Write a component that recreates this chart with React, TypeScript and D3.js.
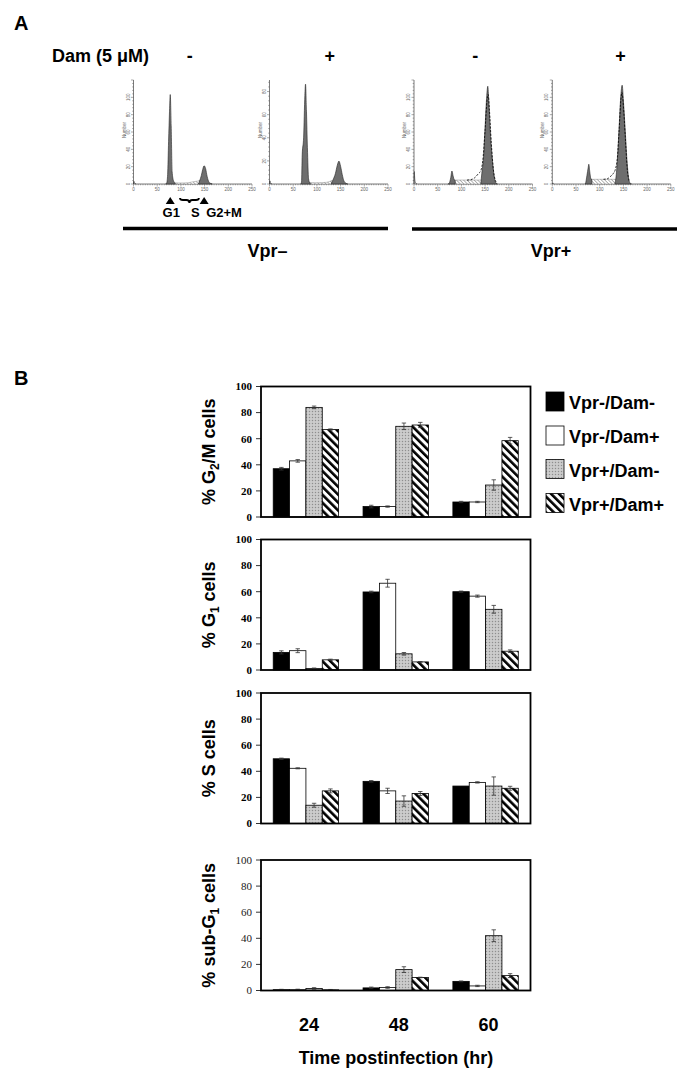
import React from "react";
import * as d3 from "d3";

// ---------- Panel B data ----------
const timepoints = ["24", "48", "60"];
const seriesNames = ["Vpr-/Dam-", "Vpr-/Dam+", "Vpr+/Dam-", "Vpr+/Dam+"];
const yTickValues = [0, 20, 40, 60, 80, 100];

// rows = time points, columns = series
const g2mValues = [[37, 43, 84, 67], [8, 8, 69.5, 70.5], [11.5, 11.5, 24.5, 58.5]];
const g2mErrors = [[1, 1, 1, 0.5], [1, 0.5, 2.5, 2], [0.5, 0.5, 4, 2.5]];
const g1Values = [[13.5, 14.8, 1.2, 7.8], [59.8, 66.5, 12.4, 6.2], [60, 56.6, 46.5, 14.4]];
const g1Errors = [[1.2, 1.5, 0.3, 0.5], [0.6, 3, 1, 0.3], [0.5, 0.8, 3, 1]];
const sValues = [[49.6, 42.3, 14, 25], [32.3, 25, 17.2, 23], [28.7, 31.5, 28.7, 27]];
const sErrors = [[0.5, 0.4, 1.5, 1.5], [0.6, 2, 4, 1.5], [0, 0.5, 7, 1.5]];
const subG1Values = [[0.6, 0.6, 1.6, 0.5], [2, 2.3, 16, 10], [7, 3.5, 42, 11.4]];
const subG1Errors = [[0.3, 0.4, 0.6, 0.3], [0.6, 0.6, 2.2, 0.2], [0.3, 0.5, 4.5, 1.5]];

// ---------- Panel A data (channel, % of axis height) ----------
const histSigns = ["-", "+", "-", "+"];
const histXTicks = [0, 50, 100, 150, 200, 250];
const histYMax = [120, 90, 120, 120];

const h1Debris = [[0, 0], [1, 2.5], [2.5, 0.5], [5, 0.3]];
const h1G1 = [[68, 0], [70, 1], [72, 9], [74, 41], [76, 70], [77.5, 86], [79.5, 56], [81.5, 12], [84.5, 3], [88, 0.8]];
const h1S = [[86, 1.2], [95, 1], [105, 1], [115, 1.2], [122, 1.8], [130, 2.5], [136, 2.8], [140, 3.5]];
const h1G2 = [[137, 0], [139.5, 3], [143, 8], [146, 14], [149, 17.5], [152, 15], [155.5, 7], [159, 2], [163, 0.5], [166, 0]];
const h1Fit: number[][] = [];

const h2Debris = [[0, 0], [1, 3], [2, 0.5], [5, 0.3]];
const h2G1 = [[66, 0], [67.6, 2], [69, 28], [72, 45], [74.6, 85], [76, 96], [78, 70], [80, 35], [82.4, 5], [85, 1], [87, 0]];
const h2S = [[84, 1.5], [95, 1.2], [110, 1.3], [120, 1.6], [127, 2.5], [132, 3.5]];
const h2G2 = [[130, 0], [134, 4], [139, 10], [143, 18], [146.5, 22], [150, 17], [153.5, 9], [157, 3], [162, 0.5], [165, 0]];
const h2Fit: number[][] = [];

const h3Debris = [[0, 0], [0.6, 12], [1.5, 5], [3, 1], [6, 0.3]];
const h3G1 = [[72, 0], [74, 0.5], [77.5, 6], [80, 12.5], [82.4, 8], [85, 4], [87, 3.5]];
const h3S = [[83, 3.8], [100, 3.8], [120, 3.8], [135, 3.8], [143, 3.8]];
const h3G2 = [[141, 0], [143, 10], [146.6, 25], [150, 55], [153.5, 85], [155.7, 94], [157.7, 80], [161, 50], [165.5, 22], [169.6, 6], [173, 1], [176, 0]];
const h3Fit = [[112, 3.8], [120, 4.2], [128, 6], [135, 9.5], [141, 13], [145, 22], [150, 52], [154, 80], [156.5, 86], [159, 72], [163, 40], [168, 12], [173, 2]];

const h4Debris = [[0, 0], [1, 1], [3, 0.3]];
const h4G1 = [[69, 0], [70, 0.5], [73, 8], [75.8, 16], [77, 19], [79, 12], [81.4, 5], [83.5, 4.5]];
const h4S = [[80, 4.5], [100, 4.5], [115, 4.5], [130, 4.5], [136, 4.5]];
const h4G2 = [[132, 0], [134, 5], [137.6, 25], [141, 55], [144.6, 85], [147.4, 95], [150, 80], [154, 50], [158, 20], [162, 3], [165, 0.5], [167, 0]];
const h4Fit = [[108, 4.5], [116, 5], [122, 7], [128.5, 10], [133, 14], [137, 24], [141, 52], [145, 83], [147, 88], [150, 75], [154, 45], [158, 15], [162, 3]];

const histograms = [
  { debris: h1Debris, g1: h1G1, s: h1S, g2: h1G2, fit: h1Fit },
  { debris: h2Debris, g1: h2G1, s: h2S, g2: h2G2, fit: h2Fit },
  { debris: h3Debris, g1: h3G1, s: h3S, g2: h3G2, fit: h3Fit },
  { debris: h4Debris, g1: h4G1, s: h4S, g2: h4G2, fit: h4Fit },
];

// ---------- layout ----------
const SANS = "Arial, 'Liberation Sans', Helvetica, sans-serif";
const SERIF = "'Times New Roman', 'Liberation Serif', serif";
const histLefts = [133.5, 269.5, 414, 552.3];
const histW = 118.5;
const histTop = 80;
const histBottom = 184;
const signDx = [-3, 1, 2, 9];

const plotLeft = 261;
const plotRight = 530.5;
const chartTops = [386.5, 539.5, 693, 860];
const chartH = 130.5;
const seriesFills = ["#000", "#fff", "url(#dots)", "url(#hatch)"];

const charts = [
  { values: g2mValues, errors: g2mErrors, pre: "% G", sub: "2", post: "/M cells", bold: true },
  { values: g1Values, errors: g1Errors, pre: "% G", sub: "1", post: " cells", bold: true },
  { values: sValues, errors: sErrors, pre: "% S cells", sub: "", post: "", bold: true },
  { values: subG1Values, errors: subG1Errors, pre: "% sub-G", sub: "1", post: " cells", bold: false },
];

function Histogram({ idx }: { idx: number }) {
  const h = histograms[idx];
  const left = histLefts[idx];
  const x = d3.scaleLinear().domain([0, 250]).range([left, left + histW]);
  const y = d3.scaleLinear().domain([0, 100]).range([histBottom, histTop]);
  const yc = d3.scaleLinear().domain([0, histYMax[idx]]).range([histBottom, histTop]);
  const area = d3.area<number[]>().x((d) => x(d[0])).y0(histBottom).y1((d) => y(d[1])).curve(d3.curveMonotoneX);
  const line = d3.line<number[]>().x((d) => x(d[0])).y((d) => y(d[1])).curve(d3.curveMonotoneX);
  const minorX = d3.range(0, 251, 5);
  const minorY = d3.range(0, histYMax[idx] + 0.1, 4);
  const majorY = d3.range(0, histYMax[idx] - 5, 20);
  return (
    <g>
      <line x1={left} x2={left + histW} y1={histBottom} y2={histBottom} stroke="#444" strokeWidth={0.7} />
      <line x1={left} x2={left} y1={histTop} y2={histBottom} stroke="#444" strokeWidth={0.7} />
      {minorX.map((t) => (
        <line key={"mx" + t} x1={x(t)} x2={x(t)} y1={histBottom} y2={histBottom + (t % 50 === 0 ? 2.5 : 1.3)} stroke="#555" strokeWidth={0.5} />
      ))}
      {minorY.map((t) => (
        <line key={"my" + t} x1={left - (t % 20 === 0 ? 2.5 : 1.3)} x2={left} y1={yc(t)} y2={yc(t)} stroke="#555" strokeWidth={0.5} />
      ))}
      {histXTicks.map((t) => (
        <text key={"xl" + t} x={x(t)} y={histBottom + 7} fontSize={4.5} fill="#666" textAnchor="middle" fontFamily={SANS}>{t}</text>
      ))}
      {majorY.map((t) => (
        <text key={"yl" + t} transform={`translate(${left - 4},${yc(t)}) rotate(-90)`} fontSize={4.5} fill="#666" textAnchor="middle" fontFamily={SANS}>{t}</text>
      ))}
      <text transform={`translate(${left - 8},${histTop + 50}) rotate(-90)`} fontSize={4.5} fill="#666" textAnchor="middle" fontFamily={SANS}>Number</text>
      <path d={area(h.s) || ""} fill="url(#shatch)" stroke="#888" strokeWidth={0.5} />
      <path d={area(h.g1) || ""} fill="#6e6e6e" stroke="#222" strokeWidth={0.6} />
      <path d={area(h.g2) || ""} fill="#6e6e6e" stroke="#222" strokeWidth={0.6} />
      <path d={line(h.debris) || ""} fill="none" stroke="#333" strokeWidth={0.7} />
      {h.fit.length > 0 && (
        <path d={line(h.fit) || ""} fill="none" stroke="#000" strokeWidth={0.8} strokeDasharray="2.2,1.4" />
      )}
      <text x={(left + histW / 2) + signDx[idx]} y={62} fontSize={18} fontWeight="bold" textAnchor="middle" fontFamily={SANS}>{histSigns[idx]}</text>
    </g>
  );
}

function BarChart({ idx }: { idx: number }) {
  const c = charts[idx];
  const top = chartTops[idx];
  const bottom = top + chartH;
  const x0 = d3.scaleBand().domain(timepoints).range([plotLeft, plotRight]).paddingInner(0.272).paddingOuter(0.136);
  const x1 = d3.scaleBand().domain(seriesNames).range([0, x0.bandwidth()]);
  const y = d3.scaleLinear().domain([0, 100]).range([bottom, top]);
  const midY = (top + bottom) / 2;
  return (
    <g>
      {timepoints.map((tp, i) =>
        seriesNames.map((s, j) => {
          const v = c.values[i][j];
          const e = c.errors[i][j];
          const bx = (x0(tp) as number) + (x1(s) as number);
          const bw = x1.bandwidth();
          const cx = bx + bw / 2;
          return (
            <g key={tp + s}>
              <rect x={bx} y={y(v)} width={bw} height={y(0) - y(v)} fill={seriesFills[j]} stroke="#000" strokeWidth={0.8} />
              {e > 0 && (
                <g stroke="#333" strokeWidth={0.8}>
                  <line x1={cx} x2={cx} y1={y(v + e)} y2={y(Math.max(0, v - e))} />
                  <line x1={cx - 2.2} x2={cx + 2.2} y1={y(v + e)} y2={y(v + e)} />
                  <line x1={cx - 2.2} x2={cx + 2.2} y1={y(Math.max(0, v - e))} y2={y(Math.max(0, v - e))} />
                </g>
              )}
            </g>
          );
        })
      )}
      <rect x={plotLeft} y={top} width={plotRight - plotLeft} height={chartH} fill="none" stroke="#000" strokeWidth={1.8} />
      {yTickValues.map((t) => (
        <g key={t}>
          <line x1={plotLeft - 5} x2={plotLeft} y1={y(t)} y2={y(t)} stroke="#000" strokeWidth={0.8} />
          <text x={plotLeft - 9} y={y(t) + 3.8} fontSize={11} fontWeight={c.bold ? "bold" : "normal"} textAnchor="end" fontFamily={SERIF} fill={c.bold ? "#000" : "#222"}>{t}</text>
        </g>
      ))}
      <text transform={`translate(215,${midY}) rotate(-90)`} fontSize={18} fontWeight="bold" textAnchor="middle" fontFamily={SANS}>
        <tspan>{c.pre}</tspan>
        {c.sub && <tspan fontSize={12} dy={4}>{c.sub}</tspan>}
        {c.post && <tspan dy={c.sub ? -4 : 0}>{c.post}</tspan>}
      </text>
      {idx === charts.length - 1 &&
        timepoints.map((tp) => (
          <text key={"xt" + tp} x={(x0(tp) as number) + x0.bandwidth() / 2 + 3} y={1031} fontSize={18} fontWeight="bold" textAnchor="middle" fontFamily={SANS}>{tp}</text>
        ))}
    </g>
  );
}

export default function App() {
  const hx = d3.scaleLinear().domain([0, 250]).range([histLefts[0], histLefts[0] + histW]);
  const g1x = hx(77.5);
  const g2x = hx(149);
  const bL = hx(98);
  const bR = hx(138);
  const bM = (bL + bR) / 2;
  const by = 200;
  const legendTops = [392, 426, 459.5, 493.5];
  return (
    <svg width={700} height={1084} style={{ position: "absolute", left: 0, top: 0, background: "#fff" }} fontFamily={SANS}>
      <defs>
        <pattern id="dots" patternUnits="userSpaceOnUse" width={3} height={3}>
          <rect width={3} height={3} fill="#c4c4c4" />
          <rect width={1} height={1} fill="#8e8e8e" />
          <rect x={1.5} y={1.5} width={1} height={1} fill="#e4e4e4" />
        </pattern>
        <pattern id="hatch" patternUnits="userSpaceOnUse" width={5.6} height={5.6} patternTransform="rotate(-45)">
          <rect width={5.6} height={5.6} fill="#fff" />
          <rect width={2.6} height={5.6} fill="#000" />
        </pattern>
        <pattern id="shatch" patternUnits="userSpaceOnUse" width={2.5} height={2.5} patternTransform="rotate(-45)">
          <rect width={2.5} height={2.5} fill="#fff" />
          <rect width={0.7} height={2.5} fill="#999" />
        </pattern>
      </defs>

      {/* Panel A */}
      <text x={14} y={30} fontSize={20} fontWeight="bold">A</text>
      <text x={52} y={62} fontSize={18} fontWeight="bold">Dam (5 μM)</text>
      {histograms.map((_, i) => (
        <Histogram key={i} idx={i} />
      ))}
      <path d={`M${g1x},${197} L${g1x - 4.5},${204} L${g1x + 4.5},${204} Z`} fill="#000" />
      <path d={`M${g2x},${197} L${g2x - 4.5},${204} L${g2x + 4.5},${204} Z`} fill="#000" />
      <path
        d={`M${bL},${by - 2} Q${bL},${by} ${bL + 3},${by} L${bM - 3},${by} Q${bM},${by} ${bM},${by + 3} Q${bM},${by} ${bM + 3},${by} L${bR - 3},${by} Q${bR},${by} ${bR},${by - 2}`}
        fill="none"
        stroke="#000"
        strokeWidth={1.8}
      />
      <text x={g1x + 1} y={216.7} fontSize={13} fontWeight="bold" textAnchor="middle">G1</text>
      <text x={bM + 6} y={216.7} fontSize={13} fontWeight="bold" textAnchor="middle">S</text>
      <text x={g2x + 2} y={216.7} fontSize={13} fontWeight="bold" textAnchor="start">G2+M</text>
      <line x1={123} x2={388} y1={228.5} y2={228.5} stroke="#000" strokeWidth={3.3} />
      <line x1={412} x2={677} y1={229} y2={229} stroke="#000" strokeWidth={3.3} />
      <text x={267.5} y={256.7} fontSize={18} fontWeight="bold" textAnchor="middle">Vpr–</text>
      <text x={551} y={256.7} fontSize={18} fontWeight="bold" textAnchor="middle">Vpr+</text>

      {/* Panel B */}
      <text x={14} y={385} fontSize={20} fontWeight="bold">B</text>
      {charts.map((_, i) => (
        <BarChart key={i} idx={i} />
      ))}
      <text x={396} y={1064} fontSize={18} fontWeight="bold" textAnchor="middle">Time postinfection (hr)</text>

      {seriesNames.map((s, j) => (
        <g key={s}>
          <rect x={546} y={legendTops[j]} width={18} height={19} fill={seriesFills[j]} stroke="#000" strokeWidth={0.8} />
          <text x={569} y={legendTops[j] + 17} fontSize={18} fontWeight="bold">{s}</text>
        </g>
      ))}
    </svg>
  );
}
